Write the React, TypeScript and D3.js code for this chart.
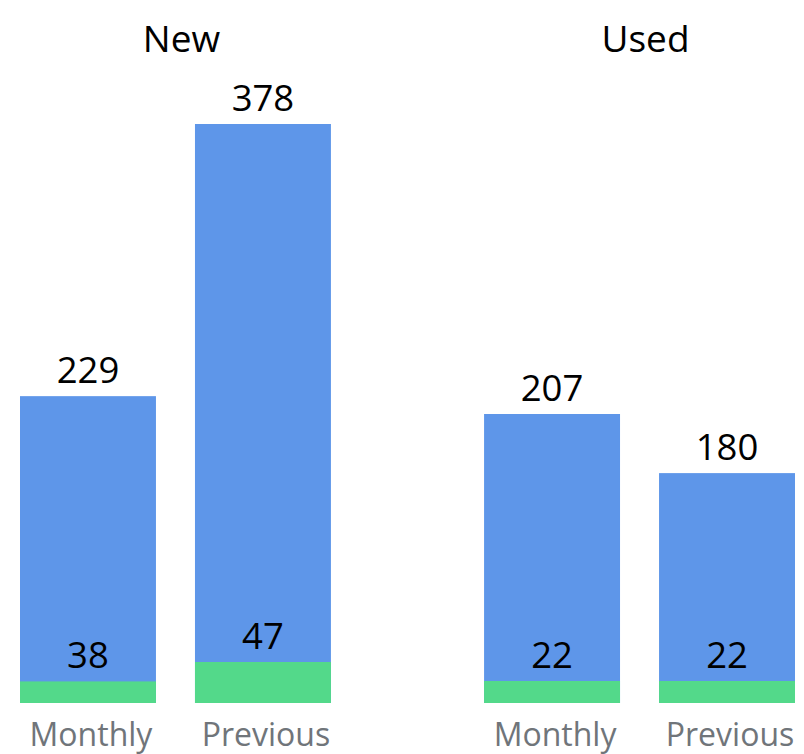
import React from "react";
import * as d3 from "d3";

// data
const groups = ["New", "Used"];
const periods = ["Monthly", "Previous"];
const totalValues = [
  [229, 378],
  [207, 180],
];
const greenValues = [
  [38, 47],
  [22, 22],
];
// lower bound of each group's value axis (bars don't start from zero)
const totalFloors = [61, 75];
const greenFloors = [28, 0];

const W = 804;
const H = 754;
const baseY = 703;
const blue = "#5e96e9";
const green = "#53d98a";
const font = "'Open Sans', 'Noto Sans', sans-serif";

const App = () => {
  const x0 = d3.scaleBand().domain(groups).range([20, 795]).paddingInner(0.33);
  const x1 = d3.scaleBand().domain(periods).range([0, x0.bandwidth()]).paddingInner(0.223);

  // per-group scales for the total bars
  const yTotal = groups.map((g, i) =>
    d3
      .scaleLinear()
      .domain([totalFloors[i], d3.max(totalValues[i])])
      .range([baseY, i === 0 ? 124 : 414])
  );
  const hGreen = groups.map((g, i) =>
    d3
      .scaleLinear()
      .domain([greenFloors[i], d3.max(greenValues[i])])
      .range([0, i === 0 ? 41 : 22])
  );

  return (
    <svg width={W} height={H} style={{ position: "absolute", left: 0, top: 0 }} fontFamily={font}>
      <rect width={W} height={H} fill="#fff" />
      {groups.map((g, gi) => {
        const gx = x0(g);
        return (
          <g key={g} transform={`translate(${gx},0)`}>
            <text x={x0.bandwidth() / 2 + 6} y={52} textAnchor="middle" fontSize={37} fill="#000">
              {g}
            </text>
            {periods.map((p, pi) => {
              const bx = x1(p);
              const bw = x1.bandwidth();
              const top = yTotal[gi](totalValues[gi][pi]);
              const gh = hGreen[gi](greenValues[gi][pi]);
              return (
                <g key={p}>
                  <rect x={bx} y={top} width={bw} height={baseY - top} fill={blue} />
                  <rect x={bx} y={baseY - gh} width={bw} height={gh} fill={green} />
                  <text x={bx + bw / 2} y={top - 13} textAnchor="middle" fontSize={36.5} fill="#000">
                    {totalValues[gi][pi]}
                  </text>
                  <text x={bx + bw / 2} y={baseY - gh - 13} textAnchor="middle" fontSize={36.5} fill="#000">
                    {greenValues[gi][pi]}
                  </text>
                  <text x={bx + bw / 2 + 3} y={746} textAnchor="middle" fontSize={32} fill="#70757a">
                    {p}
                  </text>
                </g>
              );
            })}
          </g>
        );
      })}
    </svg>
  );
};

export default App;
